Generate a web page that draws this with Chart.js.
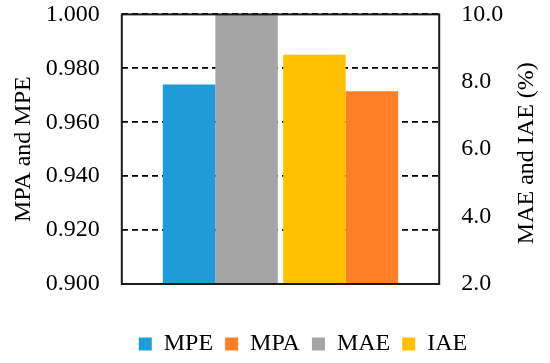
<!DOCTYPE html>
<html>
<head>
<meta charset="utf-8">
<script src="https://cdn.jsdelivr.net/npm/chart.js@4"></script>
<style>
  html, body { margin: 0; padding: 0; background: #fff; }
  #wrap { width: 550px; height: 363px; position: relative; }
</style>
</head>
<body>
<div id="wrap"><canvas id="errChart"></canvas></div>
<script>
// Datos
const categories = [''];
const mpeValues = [0.974];
const mpaValues = [0.9715];
const maeValues = [10.0];
const iaeValues = [8.8];
const leftTicks = ['0.900', '0.920', '0.940', '0.960', '0.980', '1.000'];
const rightTicks = ['2.0', '4.0', '6.0', '8.0', '10.0'];
const legendOrder = ['MPE', 'MPA', 'MAE', 'IAE'];
const rightTitle = 'MAE and IAE (%)';

const serif = "'Liberation Serif', 'Times New Roman', serif";
Chart.defaults.font.family = serif;
Chart.defaults.font.size = 24;
Chart.defaults.color = '#000';

// Marco negro alrededor del área del gráfico
const frame = {
    id: 'frame',
    afterDatasetsDraw(chart) {
        const a = chart.chartArea;
        const ctx = chart.ctx;
        ctx.save();
        ctx.strokeStyle = '#1a1a1a';
        ctx.lineWidth = 2;
        ctx.strokeRect(a.left, a.top, a.right - a.left, a.bottom - a.top);
        ctx.restore();
    }
};

// Título del eje derecho leído de abajo hacia arriba (como el izquierdo)
const rightTitlePlugin = {
    id: 'rightTitle',
    afterDraw(chart) {
        const s = chart.scales.y2;
        const ctx = chart.ctx;
        ctx.save();
        ctx.translate(s.right - 9 - 14.4, (s.top + s.bottom) / 2 + 4);
        ctx.rotate(-Math.PI / 2);
        ctx.font = '24px ' + serif;
        ctx.fillStyle = '#000';
        ctx.textAlign = 'center';
        ctx.textBaseline = 'middle';
        ctx.fillText(rightTitle, 0, 0);
        ctx.restore();
    }
};

// Desplazar la leyenda un poco a la derecha y abajo, como en la figura
const legendShift = {
    id: 'legendShift',
    afterLayout(chart) {
        chart.legend.left += 28;
        chart.legend.right += 28;
        chart.legend.top += 3;
        chart.legend.bottom += 3;
    }
};

const outer = { categoryPercentage: 0.768, barPercentage: 0.862 };
const inner = { categoryPercentage: 0.855, barPercentage: 0.92 };

new Chart(document.getElementById('errChart'), {
    type: 'bar',
    data: {
        labels: categories,
        // orden de grupo: MPE, MAE, IAE, MPA
        datasets: [
            { label: 'MPE', data: mpeValues, backgroundColor: '#1f9bd7', yAxisID: 'y', ...outer },
            { label: 'MAE', data: maeValues, backgroundColor: '#a5a5a5', yAxisID: 'y2', ...inner },
            { label: 'IAE', data: iaeValues, backgroundColor: '#ffc000', yAxisID: 'y2', ...inner },
            { label: 'MPA', data: mpaValues, backgroundColor: '#fe7f25', yAxisID: 'y', ...outer }
        ]
    },
    options: {
        responsive: true,
        maintainAspectRatio: false,
        animation: false,
        layout: { padding: { top: 0, bottom: 0 } },
        plugins: {
            tooltip: { enabled: false },
            legend: {
                position: 'bottom',
                labels: {
                    boxWidth: 13,
                    boxHeight: 13,
                    padding: 12,
                    font: { size: 24 },
                    sort: (a, b) => legendOrder.indexOf(a.text) - legendOrder.indexOf(b.text)
                }
            }
        },
        scales: {
            x: {
                display: true,
                grid: { display: false },
                border: { display: false },
                ticks: { display: false },
                afterFit(scale) { scale.height = 33; }
            },
            y: {
                position: 'left',
                min: 0.9,
                max: 1.0,
                afterBuildTicks(scale) {
                    scale.ticks = leftTicks.map(t => ({ value: parseFloat(t) }));
                },
                ticks: {
                    padding: 0,
                    callback: (v, i) => leftTicks[i]
                },
                grid: { color: '#000', lineWidth: 1.8, drawTicks: true, tickLength: 22, tickColor: 'rgba(0,0,0,0)' },
                border: { display: false, dash: [6, 4] },
                title: {
                    display: true,
                    text: 'MPA and MPE',
                    padding: { top: 9, bottom: 8 }
                }
            },
            y2: {
                position: 'right',
                min: 2,
                max: 10,
                afterBuildTicks(scale) {
                    scale.ticks = rightTicks.map(t => ({ value: parseFloat(t) }));
                },
                ticks: {
                    padding: 0,
                    callback: (v, i) => rightTicks[i]
                },
                grid: { drawOnChartArea: false, drawTicks: true, tickLength: 22, tickColor: 'rgba(0,0,0,0)' },
                border: { display: false },
                title: {
                    display: true,
                    text: rightTitle,
                    color: 'rgba(0,0,0,0)',
                    padding: { top: 9, bottom: 9 }
                }
            }
        }
    },
    plugins: [frame, rightTitlePlugin, legendShift]
});
</script>
</body>
</html>
